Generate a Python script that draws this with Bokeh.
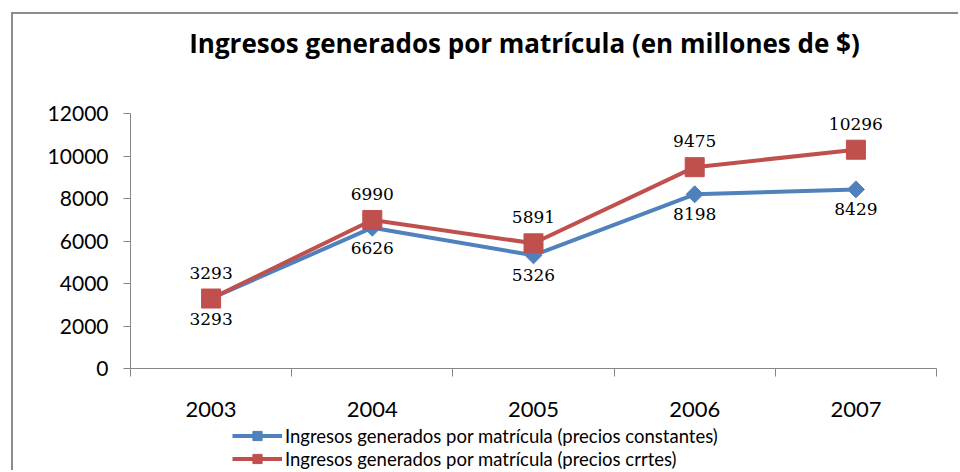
import math
from bokeh.plotting import figure
from bokeh.layouts import column
from bokeh.models import Range1d, FixedTicker, Legend, LegendItem, Label
from bokeh.core.properties import value
from bokeh.embed import file_html
from bokeh.resources import INLINE

# ---- data ----
years = ["2003", "2004", "2005", "2006", "2007"]
constantes = [3293, 6626, 5326, 8198, 8429]
corrientes = [3293, 6990, 5891, 9475, 10296]
y_ticks = [0, 2000, 4000, 6000, 8000, 10000, 12000]
title_text = "Ingresos generados por matrícula (en millones de $)"
name_const = "Ingresos generados por matrícula (precios constantes)"
name_corr = "Ingresos generados por matrícula (precios crrtes)"

BLUE = "#4F81BD"
RED = "#C0504D"
AXIS = "#868686"
W = 945
FRAME_L, FRAME_R = 117, 923
HEAD_H, MAIN_H, LEG_H = 84, 326, 46

xpos = [i + 0.5 for i in range(len(years))]
boundaries = list(range(len(years) + 1))


def bare(height):
    # frames in a column are aligned with the main chart's frame,
    # so the x range is expressed in canvas pixels of that frame
    f = figure(width=W, height=height, output_backend="svg", toolbar_location=None,
               x_range=Range1d(FRAME_L, FRAME_R), y_range=Range1d(0, height),
               x_axis_type=None, y_axis_type=None, min_border=0,
               min_border_left=FRAME_L, min_border_right=W - FRAME_R)
    f.outline_line_color = None
    f.xgrid.visible = False
    f.ygrid.visible = False
    return f


# ---- title strip ----
head = bare(HEAD_H)
head.add_layout(Label(x=511, y=HEAD_H - 28, text=title_text, text_align="center",
                      text_baseline="middle", text_font="Open Sans",
                      text_font_style="bold", text_font_size="26px",
                      text_color="black"))

# ---- main chart ----
p = figure(width=W, height=MAIN_H, output_backend="svg", toolbar_location=None,
           x_range=Range1d(0, len(years)), y_range=Range1d(0, 12000),
           min_border_left=FRAME_L, min_border_right=W - FRAME_R, min_border_top=15,
           min_border_bottom=56)
p.outline_line_color = None
p.xgrid.visible = False
p.ygrid.visible = False

xa = p.xaxis[0]
xa.ticker = FixedTicker(ticks=xpos, minor_ticks=boundaries)
xa.major_label_overrides = {x: y for x, y in zip(xpos, years)}
xa.major_tick_out = 0
xa.major_tick_in = 0
xa.minor_tick_out = 8
xa.minor_tick_in = 0
xa.minor_tick_line_color = AXIS
xa.axis_line_color = AXIS
xa.major_label_text_font = "Lato"
xa.major_label_text_font_size = "22px"
xa.major_label_text_color = "black"
xa.major_label_standoff = 25

ya = p.yaxis[0]
ya.ticker = FixedTicker(ticks=y_ticks)
ya.major_tick_out = 7
ya.major_tick_in = 0
ya.minor_tick_line_color = None
ya.major_tick_line_color = AXIS
ya.axis_line_color = AXIS
ya.major_label_text_font = "Lato"
ya.major_label_text_font_size = "21px"
ya.major_label_text_color = "black"
ya.major_label_standoff = 15

p.line(xpos, constantes, line_color=BLUE, line_width=4)
p.scatter(xpos, constantes, marker="square", angle=math.pi / 4, size=12,
          fill_color=BLUE, line_color=BLUE)
p.line(xpos, corrientes, line_color=RED, line_width=4)
p.scatter(xpos, corrientes, marker="square", size=19, fill_color=RED, line_color=RED)

p.text(xpos, constantes, text=[str(v) for v in constantes], text_align="center",
       text_baseline="top", y_offset=14, text_font=value("DejaVu Serif"),
       text_font_size="17px", text_color="black")
p.text(xpos, corrientes, text=[str(v) for v in corrientes], text_align="center",
       text_baseline="bottom", y_offset=-20, text_font=value("DejaVu Serif"),
       text_font_size="17px", text_color="black")

# ---- legend strip (series re-drawn here off-range so the legend can key them) ----
leg = bare(LEG_H)
k1 = leg.line(xpos, constantes, line_color=BLUE, line_width=4)
k1m = leg.scatter(xpos, constantes, marker="square", angle=math.pi / 4, size=12,
                  fill_color=BLUE, line_color=BLUE)
k2 = leg.line(xpos, corrientes, line_color=RED, line_width=4)
k2m = leg.scatter(xpos, corrientes, marker="square", size=19,
                  fill_color=RED, line_color=RED)
legend = Legend(items=[LegendItem(label=name_const, renderers=[k1, k1m]),
                       LegendItem(label=name_corr, renderers=[k2, k2m])],
                location=(102, 0), orientation="vertical",
                glyph_width=50, glyph_height=23, label_height=23, spacing=0,
                padding=0, margin=0, label_standoff=3,
                label_text_font="Lato", label_text_font_size="18.5px",
                label_text_color="black",
                border_line_color=None, background_fill_alpha=0)
leg.add_layout(legend)

col = column(head, p, leg, spacing=0)
col.styles = {"border-left": "2px solid #8c8c8c", "border-top": "2px solid #8c8c8c",
              "margin-left": "11px", "margin-top": "12px"}

open("out.html", "w").write(file_html(col, INLINE))
